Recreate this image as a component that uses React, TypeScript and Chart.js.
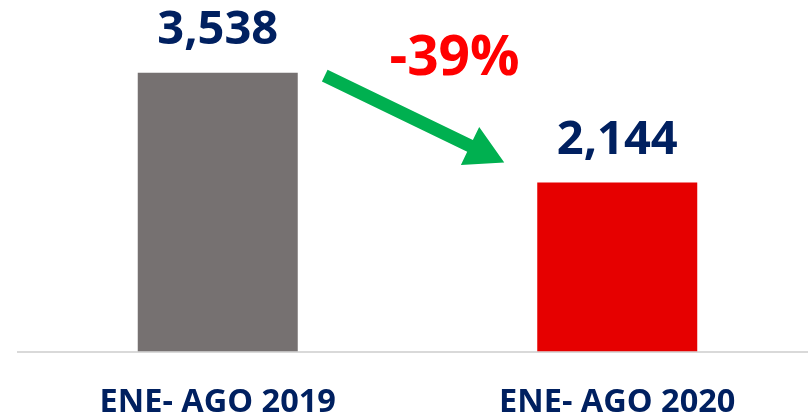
import React, { useEffect, useRef } from "react";
import { Chart, registerables } from "chart.js";

Chart.register(...registerables);

const categories = ["ENE- AGO 2019", "ENE- AGO 2020"];
const values = [3538, 2144];
const barColors = ["#767171", "#E60000"];

const FONT = "'Open Sans', 'DejaVu Sans', sans-serif";

const annotationPlugin = {
  id: "annot",
  afterDatasetsDraw(chart: any) {
    const ctx = chart.ctx;
    const meta = chart.getDatasetMeta(0);
    const bars = meta.data;
    ctx.save();
    // value labels
    ctx.fillStyle = "#002060";
    ctx.font = `bold 47px ${FONT}`;
    ctx.textAlign = "center";
    ctx.textBaseline = "alphabetic";
    bars.forEach((b: any, i: number) => {
      ctx.fillText(values[i].toLocaleString("en-US"), b.x, b.y - 29);
    });
    const b0 = bars[0];
    const b1 = bars[1];
    // percent change
    const pct = Math.round(((values[1] - values[0]) / values[0]) * 100);
    ctx.fillStyle = "#FF0000";
    ctx.font = `bold 55px ${FONT}`;
    ctx.fillText(`${pct}%`, (b0.x + b1.x) / 2 + 37, b0.y + 2);
    // arrow
    const tx = b0.x + b0.width / 2 + 27;
    const ty = b0.y + 3;
    const hx = b1.x - b1.width / 2 - 33;
    const hy = b1.y - 20;
    const dx = hx - tx;
    const dy = hy - ty;
    const len = Math.sqrt(dx * dx + dy * dy);
    const ux = dx / len;
    const uy = dy / len;
    const px = -uy;
    const py = ux;
    const headLen = 38;
    const headHalf = 21;
    const shaftHalf = 6.5;
    const bx = hx - ux * headLen;
    const by = hy - uy * headLen;
    ctx.fillStyle = "#00B050";
    ctx.beginPath();
    ctx.moveTo(tx + px * shaftHalf, ty + py * shaftHalf);
    ctx.lineTo(bx + px * shaftHalf, by + py * shaftHalf);
    ctx.lineTo(bx + px * headHalf, by + py * headHalf);
    ctx.lineTo(hx, hy);
    ctx.lineTo(bx - px * headHalf, by - py * headHalf);
    ctx.lineTo(bx - px * shaftHalf, by - py * shaftHalf);
    ctx.lineTo(tx - px * shaftHalf, ty - py * shaftHalf);
    ctx.closePath();
    ctx.fill();
    ctx.restore();
  },
};

export default function App() {
  const ref = useRef<HTMLCanvasElement>(null);
  useEffect(() => {
    document.body.style.overflow = "hidden";
    const chart = new Chart(ref.current!, {
      type: "bar",
      data: {
        labels: categories,
        datasets: [
          {
            data: values,
            backgroundColor: barColors,
            categoryPercentage: 1,
            barPercentage: 0.4005,
          },
        ],
      },
      options: {
        animation: false,
        responsive: false,
        devicePixelRatio: 1,
        layout: { padding: { left: 18, right: 0, top: 0, bottom: -37.5 } },
        plugins: { legend: { display: false }, tooltip: { enabled: false } },
        scales: {
          x: {
            grid: { display: false, drawTicks: false },
            border: { display: true, color: "#D9D9D9", width: 2 },
            ticks: {
              color: "#002060",
              padding: 32,
              font: { family: FONT, size: 32.5, weight: "bold" },
              maxRotation: 0,
            },
          },
          y: {
            display: false,
            min: 0,
            max: 4460,
          },
        },
      },
      plugins: [annotationPlugin],
    });
    return () => chart.destroy();
  }, []);
  return (
    <div style={{ position: "fixed", left: 0, top: 0, width: 817, height: 417 }}>
      <canvas ref={ref} width={817} height={417} />
    </div>
  );
}
